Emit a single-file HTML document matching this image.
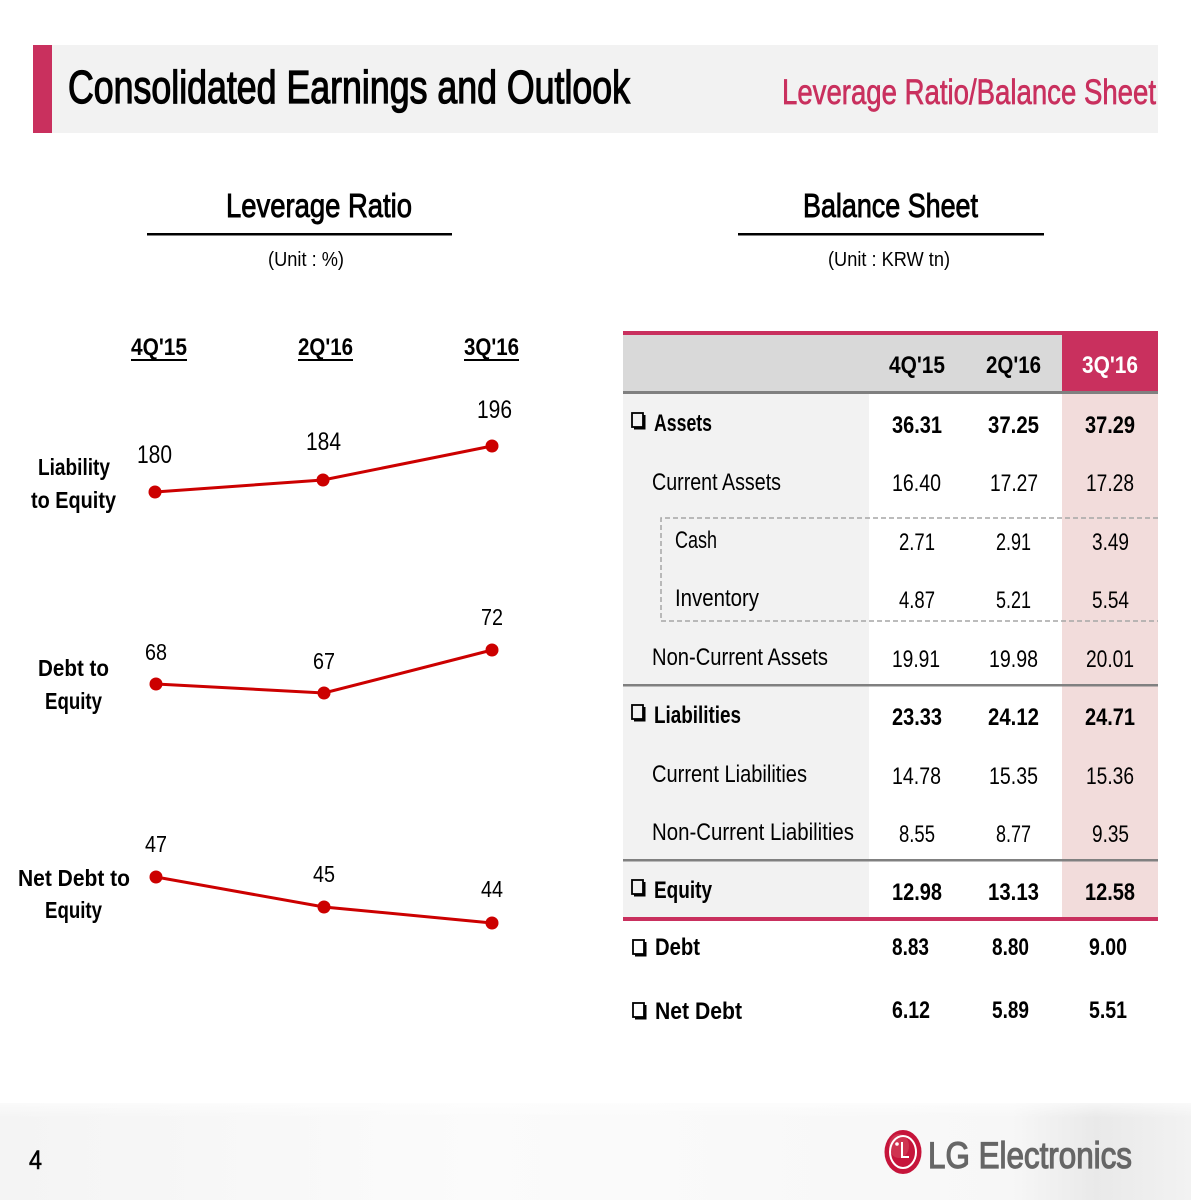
<!DOCTYPE html>
<html><head><meta charset="utf-8">
<style>
html,body{margin:0;padding:0;background:#fff;}
svg{display:block;}
text{font-family:"Liberation Sans",Arial,sans-serif;}
.b{font-weight:bold;}
</style></head>
<body>
<svg width="1191" height="1200" viewBox="0 0 1191 1200" xmlns="http://www.w3.org/2000/svg">
<defs>
<linearGradient id="ft" x1="0" y1="0" x2="1" y2="0">
<stop offset="0" stop-color="#f4f4f4"/>
<stop offset="0.4" stop-color="#fbfbfb"/>
<stop offset="0.85" stop-color="#f7f7f7"/>
<stop offset="0.92" stop-color="#e9e9e9"/>
<stop offset="1" stop-color="#f2f2f2"/>
</linearGradient>
<linearGradient id="ftv" x1="0" y1="0" x2="0" y2="1">
<stop offset="0" stop-color="#ffffff" stop-opacity="0.6"/>
<stop offset="0.15" stop-color="#ffffff" stop-opacity="0"/>
</linearGradient>
</defs>

<!-- Title bar -->
<rect x="52" y="45" width="1106" height="88" fill="#f2f2f2"/>
<rect x="33" y="45" width="19" height="88" fill="#c9305e"/>
<text x="68" y="103" font-size="46" fill="#000" stroke="#000" stroke-width="1.3" textLength="562" lengthAdjust="spacingAndGlyphs">Consolidated Earnings and Outlook</text>
<text x="782" y="104" font-size="35" fill="#c9305e" stroke="#c9305e" stroke-width="0.7" textLength="374" lengthAdjust="spacingAndGlyphs">Leverage Ratio/Balance Sheet</text>

<!-- Section titles -->
<text x="226" y="217" font-size="33" fill="#000" stroke="#000" stroke-width="0.9" textLength="186" lengthAdjust="spacingAndGlyphs">Leverage Ratio</text>
<rect x="147" y="233" width="305" height="2.5" fill="#000"/>
<text x="268" y="266" font-size="20" fill="#000" textLength="76" lengthAdjust="spacingAndGlyphs">(Unit : %)</text>

<text x="803" y="217" font-size="33" fill="#000" stroke="#000" stroke-width="0.9" textLength="175" lengthAdjust="spacingAndGlyphs">Balance Sheet</text>
<rect x="738" y="233" width="306" height="2.5" fill="#000"/>
<text x="828" y="266" font-size="20" fill="#000" textLength="122" lengthAdjust="spacingAndGlyphs">(Unit : KRW tn)</text>

<!-- Left chart headers -->
<text class="b" x="131" y="355" font-size="24" textLength="56" lengthAdjust="spacingAndGlyphs">4Q'15</text>
<rect x="131" y="359" width="56" height="2" fill="#000"/>
<text class="b" x="298" y="355" font-size="24" textLength="55" lengthAdjust="spacingAndGlyphs">2Q'16</text>
<rect x="298" y="359" width="55" height="2" fill="#000"/>
<text class="b" x="464" y="355" font-size="24" textLength="55" lengthAdjust="spacingAndGlyphs">3Q'16</text>
<rect x="464" y="359" width="55" height="2" fill="#000"/>

<!-- Row labels -->
<text class="b" x="38" y="475" font-size="23" textLength="72" lengthAdjust="spacingAndGlyphs">Liability</text>
<text class="b" x="31" y="508" font-size="23" textLength="85" lengthAdjust="spacingAndGlyphs">to Equity</text>
<text class="b" x="38" y="676" font-size="23" textLength="71" lengthAdjust="spacingAndGlyphs">Debt to</text>
<text class="b" x="45" y="709" font-size="23" textLength="57" lengthAdjust="spacingAndGlyphs">Equity</text>
<text class="b" x="18" y="886" font-size="23" textLength="112" lengthAdjust="spacingAndGlyphs">Net Debt to</text>
<text class="b" x="45" y="918" font-size="23" textLength="57" lengthAdjust="spacingAndGlyphs">Equity</text>

<!-- Series lines -->
<g stroke="#cc0000" stroke-width="3" fill="none">
<polyline points="155,492 323,480 492,446"/>
<polyline points="156,684 324,693 492,650"/>
<polyline points="156,877 324,907 492,923"/>
</g>
<g fill="#cc0000">
<circle cx="155" cy="492" r="6.5"/><circle cx="323" cy="480" r="6.5"/><circle cx="492" cy="446" r="6.5"/>
<circle cx="156" cy="684" r="6.5"/><circle cx="324" cy="693" r="6.5"/><circle cx="492" cy="650" r="6.5"/>
<circle cx="156" cy="877" r="6.5"/><circle cx="324" cy="907" r="6.5"/><circle cx="492" cy="923" r="6.5"/>
</g>
<!-- data labels -->
<g font-size="25" fill="#000">
<text x="137" y="463" textLength="35" lengthAdjust="spacingAndGlyphs">180</text>
<text x="306" y="450" textLength="35" lengthAdjust="spacingAndGlyphs">184</text>
<text x="477" y="418" textLength="35" lengthAdjust="spacingAndGlyphs">196</text>
<text x="145" y="660" font-size="23" textLength="22" lengthAdjust="spacingAndGlyphs">68</text>
<text x="313" y="669" font-size="23" textLength="22" lengthAdjust="spacingAndGlyphs">67</text>
<text x="481" y="625" font-size="23" textLength="22" lengthAdjust="spacingAndGlyphs">72</text>
<text x="145" y="852" font-size="23" textLength="22" lengthAdjust="spacingAndGlyphs">47</text>
<text x="313" y="882" font-size="23" textLength="22" lengthAdjust="spacingAndGlyphs">45</text>
<text x="481" y="897" font-size="23" textLength="22" lengthAdjust="spacingAndGlyphs">44</text>
</g>

<!-- Table -->
<rect x="623" y="331" width="535" height="4.5" fill="#c9305e"/>
<rect x="623" y="335" width="439" height="56" fill="#d9d9d9"/>
<rect x="1062" y="335" width="96" height="56" fill="#c9305e"/>
<rect x="623" y="391" width="535" height="3" fill="#808080"/>
<rect x="623" y="394" width="246" height="523" fill="#f2f2f2"/>
<rect x="1062" y="394" width="96" height="523" fill="#f2dcdb"/>
<rect x="623" y="684" width="535" height="2.5" fill="#808080"/>
<rect x="623" y="859" width="535" height="2.5" fill="#808080"/>
<rect x="623" y="917" width="535" height="4" fill="#c9305e"/>
<path d="M1158,518 H661 V621 H1158" fill="none" stroke="#a6a6a6" stroke-width="1.5" stroke-dasharray="5,3"/>

<g class="b" font-size="24">
<text x="889" y="373" textLength="56" lengthAdjust="spacingAndGlyphs">4Q'15</text>
<text x="986" y="373" textLength="55" lengthAdjust="spacingAndGlyphs">2Q'16</text>
<text x="1082" y="373" fill="#fff" textLength="56" lengthAdjust="spacingAndGlyphs">3Q'16</text>
</g>

<!-- checkboxes -->
<g fill="none" stroke="#000">
<rect x="632" y="413" width="11" height="14" stroke-width="1.8"/>
<rect x="632" y="705" width="11" height="14" stroke-width="1.8"/>
<rect x="632" y="880" width="11" height="14" stroke-width="1.8"/>
<rect x="633" y="940" width="11" height="14" stroke-width="1.8"/>
<rect x="633" y="1003" width="11" height="14" stroke-width="1.8"/>
</g>
<g fill="#000">
<rect x="643" y="415" width="2.5" height="14"/><rect x="634" y="427" width="11.5" height="2.5"/>
<rect x="643" y="707" width="2.5" height="14"/><rect x="634" y="719" width="11.5" height="2.5"/>
<rect x="643" y="882" width="2.5" height="14"/><rect x="634" y="894" width="11.5" height="2.5"/>
<rect x="644" y="942" width="2.5" height="14"/><rect x="635" y="954" width="11.5" height="2.5"/>
<rect x="644" y="1005" width="2.5" height="14"/><rect x="635" y="1017" width="11.5" height="2.5"/>
</g>

<!-- bold rows -->
<g class="b" font-size="24">
<text x="654" y="431" textLength="58" lengthAdjust="spacingAndGlyphs">Assets</text>
<text x="892" y="433" textLength="50" lengthAdjust="spacingAndGlyphs">36.31</text>
<text x="988" y="433" textLength="51" lengthAdjust="spacingAndGlyphs">37.25</text>
<text x="1085" y="433" textLength="50" lengthAdjust="spacingAndGlyphs">37.29</text>

<text x="654" y="723" textLength="87" lengthAdjust="spacingAndGlyphs">Liabilities</text>
<text x="892" y="725" textLength="50" lengthAdjust="spacingAndGlyphs">23.33</text>
<text x="988" y="725" textLength="51" lengthAdjust="spacingAndGlyphs">24.12</text>
<text x="1085" y="725" textLength="50" lengthAdjust="spacingAndGlyphs">24.71</text>

<text x="654" y="898" textLength="58" lengthAdjust="spacingAndGlyphs">Equity</text>
<text x="892" y="900" textLength="50" lengthAdjust="spacingAndGlyphs">12.98</text>
<text x="988" y="900" textLength="51" lengthAdjust="spacingAndGlyphs">13.13</text>
<text x="1085" y="900" textLength="50" lengthAdjust="spacingAndGlyphs">12.58</text>

<text x="655" y="955" textLength="45" lengthAdjust="spacingAndGlyphs">Debt</text>
<text x="892" y="955" textLength="37" lengthAdjust="spacingAndGlyphs">8.83</text>
<text x="992" y="955" textLength="37" lengthAdjust="spacingAndGlyphs">8.80</text>
<text x="1089" y="955" textLength="38" lengthAdjust="spacingAndGlyphs">9.00</text>

<text x="655" y="1019" textLength="87" lengthAdjust="spacingAndGlyphs">Net Debt</text>
<text x="892" y="1018" textLength="38" lengthAdjust="spacingAndGlyphs">6.12</text>
<text x="992" y="1018" textLength="37" lengthAdjust="spacingAndGlyphs">5.89</text>
<text x="1089" y="1018" textLength="38" lengthAdjust="spacingAndGlyphs">5.51</text>
</g>

<!-- regular rows -->
<g font-size="24" fill="#000">
<text x="652" y="490" textLength="129" lengthAdjust="spacingAndGlyphs">Current Assets</text>
<text x="892" y="491" textLength="49" lengthAdjust="spacingAndGlyphs">16.40</text>
<text x="990" y="491" textLength="48" lengthAdjust="spacingAndGlyphs">17.27</text>
<text x="1086" y="491" textLength="48" lengthAdjust="spacingAndGlyphs">17.28</text>

<text x="675" y="548" textLength="42" lengthAdjust="spacingAndGlyphs">Cash</text>
<text x="899" y="550" textLength="36" lengthAdjust="spacingAndGlyphs">2.71</text>
<text x="996" y="550" textLength="35" lengthAdjust="spacingAndGlyphs">2.91</text>
<text x="1092" y="550" textLength="37" lengthAdjust="spacingAndGlyphs">3.49</text>

<text x="675" y="606" textLength="84" lengthAdjust="spacingAndGlyphs">Inventory</text>
<text x="899" y="608" textLength="36" lengthAdjust="spacingAndGlyphs">4.87</text>
<text x="996" y="608" textLength="35" lengthAdjust="spacingAndGlyphs">5.21</text>
<text x="1092" y="608" textLength="37" lengthAdjust="spacingAndGlyphs">5.54</text>

<text x="652" y="665" textLength="176" lengthAdjust="spacingAndGlyphs">Non-Current Assets</text>
<text x="892" y="667" textLength="48" lengthAdjust="spacingAndGlyphs">19.91</text>
<text x="989" y="667" textLength="49" lengthAdjust="spacingAndGlyphs">19.98</text>
<text x="1086" y="667" textLength="48" lengthAdjust="spacingAndGlyphs">20.01</text>

<text x="652" y="782" textLength="155" lengthAdjust="spacingAndGlyphs">Current Liabilities</text>
<text x="892" y="784" textLength="49" lengthAdjust="spacingAndGlyphs">14.78</text>
<text x="989" y="784" textLength="49" lengthAdjust="spacingAndGlyphs">15.35</text>
<text x="1086" y="784" textLength="48" lengthAdjust="spacingAndGlyphs">15.36</text>

<text x="652" y="840" textLength="202" lengthAdjust="spacingAndGlyphs">Non-Current Liabilities</text>
<text x="899" y="842" textLength="36" lengthAdjust="spacingAndGlyphs">8.55</text>
<text x="996" y="842" textLength="35" lengthAdjust="spacingAndGlyphs">8.77</text>
<text x="1092" y="842" textLength="37" lengthAdjust="spacingAndGlyphs">9.35</text>
</g>

<!-- Footer -->
<rect x="0" y="1103" width="1191" height="97" fill="url(#ft)"/>
<rect x="0" y="1103" width="1191" height="97" fill="url(#ftv)"/>
<text x="29" y="1169" font-size="27" fill="#000" stroke="#000" stroke-width="0.6" textLength="13" lengthAdjust="spacingAndGlyphs">4</text>

<!-- LG logo -->
<ellipse cx="903" cy="1152" rx="18.5" ry="22" fill="#c6153b"/>
<ellipse cx="899" cy="1146" rx="10" ry="12" fill="#d6485f" opacity="0.6"/>
<ellipse cx="903" cy="1152" rx="13" ry="16" fill="none" stroke="#fff" stroke-width="2"/>
<rect x="901" y="1142" width="2" height="16" fill="#fff"/>
<rect x="901" y="1156" width="8" height="2" fill="#fff"/>
<circle cx="897" cy="1144" r="1.8" fill="#fff"/>
<text x="928" y="1168" font-size="37" fill="#666" stroke="#666" stroke-width="1.2" textLength="204" lengthAdjust="spacingAndGlyphs">LG Electronics</text>
</svg>
</body></html>
